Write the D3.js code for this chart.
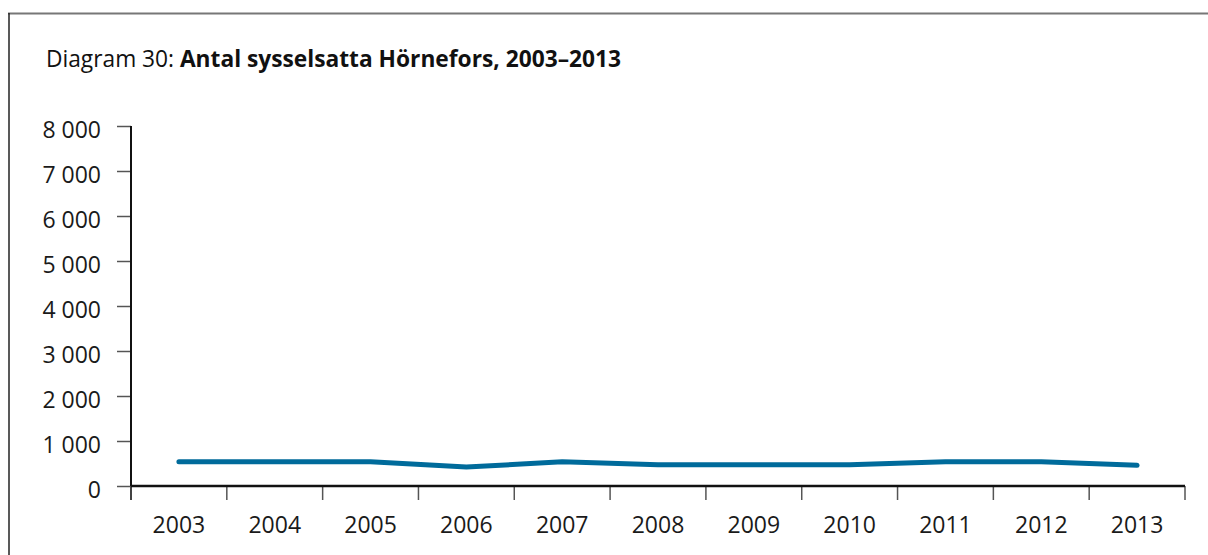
<!DOCTYPE html>
<html lang="sv">
<head>
<meta charset="UTF-8">
<title>Antal sysselsatta Hörnefors</title>
<script src="https://d3js.org/d3.v7.min.js"></script>
<style>
    body { margin: 0; background: #fff; }
    svg { font-family: "Open Sans", sans-serif; }
</style>
</head>
<body>
<div id="chart"></div>
<script>
    // data
    const years = ["2003", "2004", "2005", "2006", "2007", "2008", "2009", "2010", "2011", "2012", "2013"];
    const employed = [540, 540, 540, 420, 540, 470, 470, 470, 540, 540, 460];
    const yTicks = [0, 1000, 2000, 3000, 4000, 5000, 6000, 7000, 8000];

    const W = 1208, H = 555;
    const margin = {top: 126, right: 23, bottom: 69, left: 131};

    const svg = d3.select("#chart").append("svg")
        .attr("width", W)
        .attr("height", H);

    // frame: top + left edge
    svg.append("line")
        .attr("x1", 8).attr("x2", W).attr("y1", 13.5).attr("y2", 13.5)
        .attr("stroke", "#777").attr("stroke-width", 2);
    svg.append("line")
        .attr("x1", 9).attr("x2", 9).attr("y1", 13).attr("y2", H)
        .attr("stroke", "#222").attr("stroke-width", 1.5);

    // title
    const title = svg.append("text")
        .attr("x", 46).attr("y", 67)
        .attr("font-size", 24)
        .attr("fill", "#111")
        .attr("textLength", 575)
        .attr("lengthAdjust", "spacingAndGlyphs");
    title.append("tspan").text("Diagram 30: ");
    title.append("tspan").attr("font-weight", "bold").text("Antal sysselsatta Hörnefors, 2003–2013");

    const x = d3.scaleBand()
        .domain(years)
        .range([margin.left, W - margin.right]);

    const y = d3.scaleLinear()
        .domain([0, 8000])
        .range([H - margin.bottom, margin.top]);

    // y axis
    const yAxis = svg.append("g")
        .attr("transform", `translate(${margin.left},0)`)
        .call(d3.axisLeft(y).tickValues(yTicks).tickSize(14).tickPadding(16)
            .tickFormat(d => d === 0 ? "0" : d3.format(",")(d).replace(",", " ")));
    yAxis.select(".domain").remove();
    yAxis.selectAll(".tick line").attr("stroke", "#555").attr("stroke-width", 1.5);
    yAxis.selectAll(".tick text")
        .attr("font-size", 23)
        .attr("fill", "#1a1a1a")
        .attr("font-family", "Open Sans, sans-serif")
        .attr("dy", "0.5em");

    svg.append("line")
        .attr("x1", margin.left).attr("x2", margin.left)
        .attr("y1", margin.top).attr("y2", H - margin.bottom + 14)
        .attr("stroke", "#111").attr("stroke-width", 2);

    // x axis labels (band centres) and boundary ticks
    const xAxis = svg.append("g")
        .attr("transform", `translate(0,${H - margin.bottom})`)
        .call(d3.axisBottom(x).tickSize(0).tickPadding(31));
    xAxis.select(".domain").remove();
    xAxis.selectAll(".tick text")
        .attr("font-size", 23)
        .attr("fill", "#1a1a1a")
        .attr("font-family", "Open Sans, sans-serif");

    const edges = years.map(d => x(d)).concat([x(years[years.length - 1]) + x.bandwidth()]);
    svg.append("g").selectAll("line")
        .data(edges)
        .enter().append("line")
        .attr("x1", d => d).attr("x2", d => d)
        .attr("y1", H - margin.bottom).attr("y2", H - margin.bottom + 14)
        .attr("stroke", "#555").attr("stroke-width", 1.5);

    svg.append("line")
        .attr("x1", margin.left).attr("x2", W - margin.right)
        .attr("y1", y(0)).attr("y2", y(0))
        .attr("stroke", "#111").attr("stroke-width", 2.5);

    // series line
    svg.append("path")
        .datum(employed)
        .attr("fill", "none")
        .attr("stroke", "#006b9b")
        .attr("stroke-width", 5)
        .attr("stroke-linecap", "round")
        .attr("stroke-linejoin", "round")
        .attr("d", d3.line()
            .x((d, i) => x(years[i]) + x.bandwidth() / 2)
            .y(d => y(d)));
</script>
</body>
</html>
